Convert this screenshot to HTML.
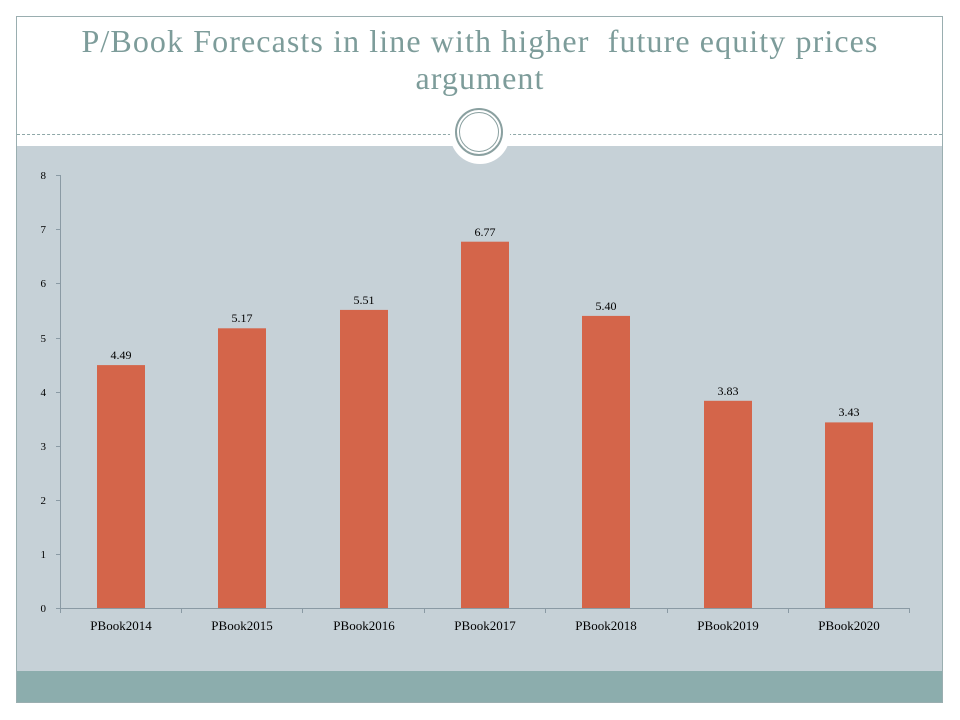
<!DOCTYPE html>
<html><head><style>
body{margin:0;width:960px;height:720px;background:#fff;position:relative;overflow:hidden;font-family:"Liberation Serif",serif}
.frame{position:absolute;left:16px;top:16px;width:927px;height:687px;border:1px solid #9aaeb0;box-sizing:border-box}
</style></head><body>
<div class="frame"></div>
<div style="position:absolute;left:17px;top:146px;width:925px;height:525px;background:#c6d1d7"></div>
<div style="position:absolute;left:17px;top:671px;width:925px;height:31px;background:#8cadad"></div>
<div style="position:absolute;left:17px;top:134px;width:925px;border-top:1px dashed #8fa8a8"></div>
<div style="position:absolute;left:450px;top:104px;width:60px;height:60px;border-radius:50%;background:#fff"></div>
<div style="position:absolute;left:455px;top:108px;width:44px;height:44px;border-radius:50%;border:2px solid #8aa0a0"></div>
<div style="position:absolute;left:459px;top:112px;width:38px;height:38px;border-radius:50%;border:1px solid #8aa0a0;box-sizing:content-box"></div>
<div style="position:absolute;left:0;top:23px;width:960px;text-align:center;color:#7d9c9a;font-size:32px;letter-spacing:1.1px;line-height:37px">P/Book Forecasts in line with higher &nbsp;future equity prices<br>argument</div>
<svg width="960" height="720" style="position:absolute;left:0;top:0" font-family="Liberation Serif, serif" font-size="12">
<g stroke="#8a9aa4" stroke-width="1">
<line x1="60.5" y1="175" x2="60.5" y2="608"/>
<line x1="60" y1="608.5" x2="910" y2="608.5"/>
<line x1="56" x2="60" y1="608.5" y2="608.5"/><line x1="56" x2="60" y1="554.5" y2="554.5"/><line x1="56" x2="60" y1="500.5" y2="500.5"/><line x1="56" x2="60" y1="446.5" y2="446.5"/><line x1="56" x2="60" y1="392.5" y2="392.5"/><line x1="56" x2="60" y1="338.5" y2="338.5"/><line x1="56" x2="60" y1="283.5" y2="283.5"/><line x1="56" x2="60" y1="229.5" y2="229.5"/><line x1="56" x2="60" y1="175.5" y2="175.5"/>
<line x1="60.5" x2="60.5" y1="608" y2="613"/><line x1="181.5" x2="181.5" y1="608" y2="613"/><line x1="302.5" x2="302.5" y1="608" y2="613"/><line x1="424.5" x2="424.5" y1="608" y2="613"/><line x1="545.5" x2="545.5" y1="608" y2="613"/><line x1="667.5" x2="667.5" y1="608" y2="613"/><line x1="788.5" x2="788.5" y1="608" y2="613"/><line x1="909.5" x2="909.5" y1="608" y2="613"/>
</g>
<g font-size="11" text-anchor="end">
<text x="46" y="612">0</text><text x="46" y="558">1</text><text x="46" y="504">2</text><text x="46" y="450">3</text><text x="46" y="396">4</text><text x="46" y="342">5</text><text x="46" y="287">6</text><text x="46" y="233">7</text><text x="46" y="179">8</text>
</g>
<g fill="#d4654a">
<rect x="97" y="365.1" width="48" height="242.9"/>
<rect x="218" y="328.3" width="48" height="279.7"/>
<rect x="340" y="309.9" width="48" height="298.1"/>
<rect x="461" y="241.7" width="48" height="366.3"/>
<rect x="582" y="315.9" width="48" height="292.1"/>
<rect x="704" y="400.8" width="48" height="207.2"/>
<rect x="825" y="422.4" width="48" height="185.6"/>
</g>
<g text-anchor="middle">
<text x="121" y="359">4.49</text><text x="242" y="322">5.17</text><text x="364" y="304">5.51</text><text x="485" y="236">6.77</text><text x="606" y="310">5.40</text><text x="728" y="395">3.83</text><text x="849" y="416">3.43</text>
</g>
<g text-anchor="middle" font-size="13">
<text x="121" y="630">PBook2014</text><text x="242" y="630">PBook2015</text><text x="364" y="630">PBook2016</text><text x="485" y="630">PBook2017</text><text x="606" y="630">PBook2018</text><text x="728" y="630">PBook2019</text><text x="849" y="630">PBook2020</text>
</g>
</svg>
</body></html>
